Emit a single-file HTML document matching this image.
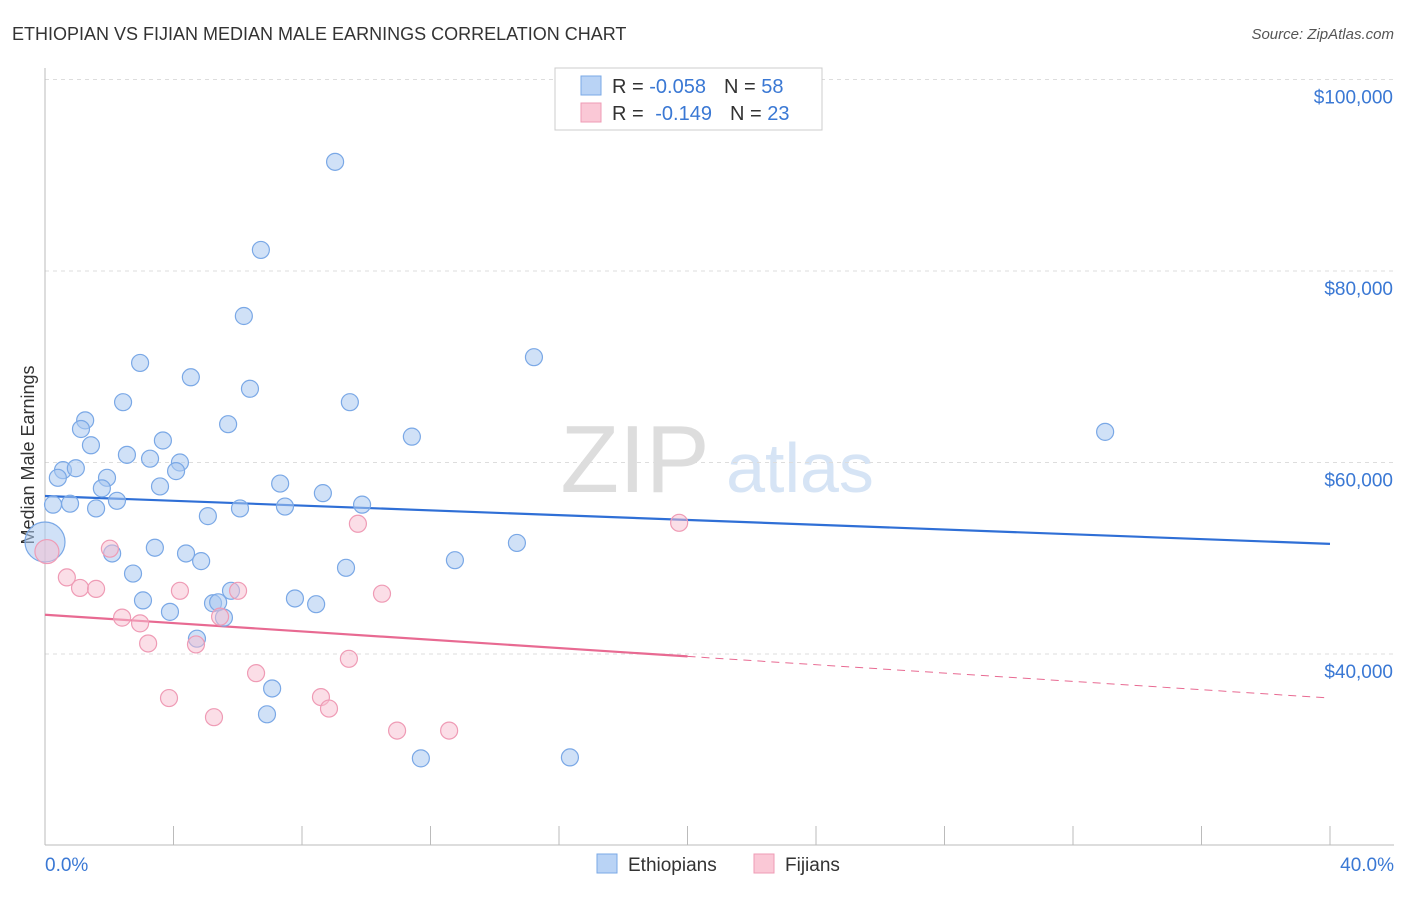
<!DOCTYPE html>
<html><head><meta charset="utf-8"><style>
body{margin:0;background:#fff;font-family:"Liberation Sans",sans-serif;}
svg text{font-family:"Liberation Sans",sans-serif;}
</style></head><body>
<svg id="chart" width="1406" height="892" xmlns="http://www.w3.org/2000/svg">
<text x="12" y="40" font-size="18" fill="#333">ETHIOPIAN VS FIJIAN MEDIAN MALE EARNINGS CORRELATION CHART</text>
<text x="1394" y="39" font-size="15" fill="#555" font-style="italic" text-anchor="end">Source: ZipAtlas.com</text>
<text x="34" y="455" font-size="18" fill="#333" text-anchor="middle" transform="rotate(-90 34 455)">Median Male Earnings</text>
<text x="635" y="492" font-size="96" fill="#ddd" font-family="Liberation Serif" text-anchor="middle">ZIP</text>
<text x="800" y="492" font-size="70" fill="#d6e4f5" text-anchor="middle">atlas</text>
<g id="grid"></g><g id="axes"></g><g id="trend"></g><g id="pts"></g>
<g>
<rect x="555" y="68" width="267" height="62" fill="#fff" stroke="#ccc"/>
<rect x="581" y="76" width="20" height="19" fill="#b9d3f5" stroke="#7aa8e6"/>
<rect x="581" y="103" width="20" height="19" fill="#fac8d6" stroke="#ef9bb5"/>
<text x="612" y="93" font-size="20" fill="#333">R = <tspan fill="#3a78d4">-0.058</tspan><tspan dx="18">N = </tspan><tspan fill="#3a78d4">58</tspan></text>
<text x="612" y="120" font-size="20" fill="#333">R = <tspan dx="6" fill="#3a78d4">-0.149</tspan><tspan dx="18">N = </tspan><tspan fill="#3a78d4">23</tspan></text>
</g>
<g>
<rect x="597" y="854" width="20" height="19" fill="#b9d3f5" stroke="#7aa8e6"/>
<text x="628" y="871" font-size="19" fill="#333">Ethiopians</text>
<rect x="754" y="854" width="20" height="19" fill="#fac8d6" stroke="#ef9bb5"/>
<text x="785" y="871" font-size="19" fill="#333">Fijians</text>
</g>
</svg>
<script>
const yTicks=[40000,60000,80000,100000];
const yTickLabels=["$40,000","$60,000","$80,000","$100,000"];
const xTickLabels=["0.0%","40.0%"];
const ethX=[9.03,6.72,6.19,2.96,4.54,6.38,2.43,9.49,15.22,1.25,1.12,5.70,1.43,3.67,11.42,33.00,2.55,3.27,4.20,0.56,0.96,0.40,1.93,4.08,3.58,1.77,7.32,8.65,2.24,0.25,0.78,1.59,6.07,7.47,9.87,5.07,0.0,14.69,3.42,4.39,2.09,4.86,12.76,9.37,2.74,5.79,7.78,3.05,8.44,5.23,5.39,3.89,5.57,4.73,7.07,6.91,11.70,16.34];
const ethY=[91.4,82.2,75.3,70.4,68.9,67.7,66.3,66.3,71.0,64.4,63.5,64.0,61.8,62.3,62.7,63.2,60.8,60.4,60.0,59.2,59.4,58.4,58.4,59.1,57.5,57.3,57.8,56.8,56.0,55.6,55.7,55.2,55.2,55.4,55.6,54.4,51.7,51.6,51.1,50.5,50.5,49.7,49.8,49.0,48.4,46.6,45.8,45.6,45.2,45.3,45.4,44.4,43.8,41.6,36.4,33.7,29.1,29.2];
const fijX=[0.06,0.68,1.09,1.59,2.02,4.20,6.01,9.74,10.49,19.74,2.40,2.96,3.21,4.70,5.45,9.46,6.57,3.86,5.26,8.59,8.84,10.96,12.58];
const fijY=[50.7,48.0,46.9,46.8,51.0,46.6,46.6,53.6,46.3,53.7,43.8,43.2,41.1,41.0,43.9,39.5,38.0,35.4,33.4,35.5,34.3,32.0,32.0];
const ethTrend=[56.5,51.5];
const fijTrend=[44.1,35.4];
const NS="http://www.w3.org/2000/svg";
function xs(p){return 45+p*1285/40;}
function ys(v){return 654-(v-40000)*191.5/20000;}
function mk(t,a,par){const e=document.createElementNS(NS,t);for(const k in a)e.setAttribute(k,a[k]);document.getElementById(par).appendChild(e);return e;}
yTicks.forEach((v,i)=>{
 const l=mk('line',{x1:45,x2:1394,y1:ys(v),y2:ys(v),stroke:'#ddd','stroke-dasharray':'4,4'},'grid');
 
 
 const t=mk('text',{x:1393,y:ys(v)+24,'font-size':19,fill:'#3a78d4','text-anchor':'end'},'grid');
 t.textContent=yTickLabels[i];
 
 
});
const ax=mk('line',{x1:45,x2:45,y1:68,y2:845,stroke:'#bbb'},'axes');


const bx=mk('line',{x1:45,x2:1394,y1:845,y2:845,stroke:'#bbb'},'axes');


for(let i=1;i<=10;i++){
 const tk=mk('line',{x1:xs(i*4),x2:xs(i*4),y1:826,y2:845,stroke:'#bbb'},'axes');
 
 
}
[[0,'start',45],[40,'end',1394]].forEach((d,i)=>{
 const t=mk('text',{x:d[2],y:871,'font-size':19,fill:'#3a78d4','text-anchor':d[1]},'axes');
 t.textContent=xTickLabels[i];
 
 
});
const t1=mk('line',{x1:xs(0),y1:ys(ethTrend[0]*1000),x2:xs(40),y2:ys(ethTrend[1]*1000),stroke:'#2f6fd6','stroke-width':2.2},'trend');


const fm=(fijTrend[0]+fijTrend[1])/2;
const t2=mk('line',{x1:xs(0),y1:ys(fijTrend[0]*1000),x2:xs(20),y2:ys(fm*1000),stroke:'#e86a92','stroke-width':2.2},'trend');


const t3=mk('line',{x1:xs(20),y1:ys(fm*1000),x2:xs(40),y2:ys(fijTrend[1]*1000),stroke:'#e86a92','stroke-width':1,'stroke-dasharray':'8,6'},'trend');


ethX.forEach((x,i)=>{
 const c=mk('circle',{cx:xs(x),cy:ys(ethY[i]*1000),r:x===0?20:8.5,fill:'rgba(170,200,240,0.55)',stroke:'#7aa8e6','stroke-width':1.2},'pts');
 
 
});
fijX.forEach((x,i)=>{
 const c=mk('circle',{cx:xs(x),cy:ys(fijY[i]*1000),r:i===0?12:8.5,fill:'rgba(248,190,208,0.5)',stroke:'#ef9bb5','stroke-width':1.2},'pts');
 
 
});
</script>
</body></html>
